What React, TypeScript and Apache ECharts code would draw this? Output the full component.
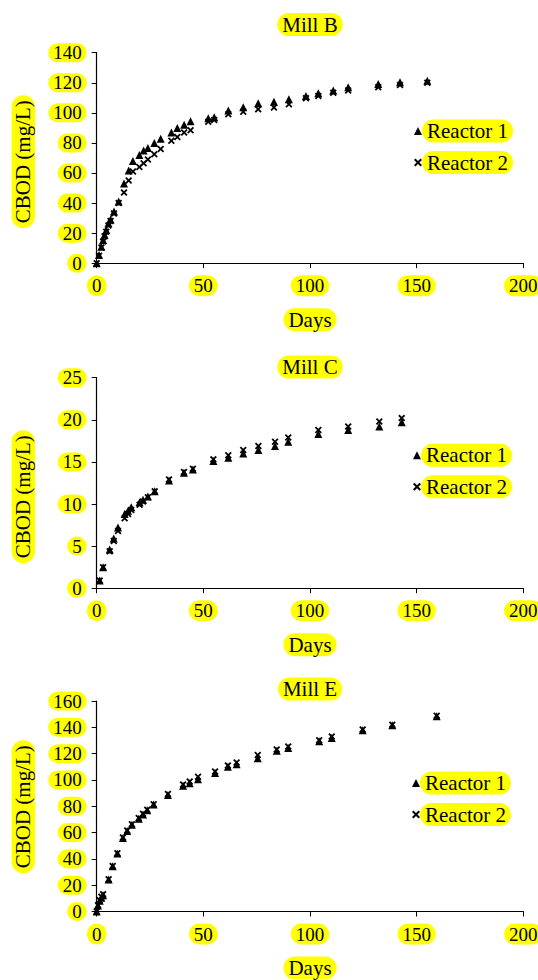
import React, { useEffect, useRef } from "react";
import * as echarts from "echarts";

// ---- Data ----
const millBDays = [0, 1.1, 2.2, 3, 3.7, 4.5, 5.5, 6.5, 8.1, 10.3, 12.8, 15, 17, 20, 22, 24, 27, 30, 35, 37.8, 41, 44, 52.3, 55.1, 61.7, 68.7, 75.7, 83.1, 90.1, 98.1, 103.9, 110.9, 117.9, 132, 142.2, 155];
const millBR1 = [0, 5.5, 11, 15.5, 19, 22, 26.6, 29, 34.4, 41, 53, 61.7, 68, 72, 75, 76.7, 80, 82.7, 87, 90, 92, 94.4, 96.4, 97, 101.5, 103.7, 106.4, 107.4, 109, 111.2, 113, 114.8, 117, 119.2, 120.3, 121.4];
const millBR2 = [0, 5, 10.5, 14.5, 18, 21, 25, 28, 33, 40, 47, 55, 61, 64, 66.5, 69, 72.5, 76, 81.5, 84, 87, 88.4, 94, 95.3, 99, 100.8, 102.4, 103.5, 105.7, 109.7, 111.2, 113.4, 114.8, 117, 118.5, 120];

const millCDays = [1.4, 3, 6.1, 8, 10, 13.1, 14.7, 16.2, 20.1, 21.7, 24, 27.2, 33.9, 40.9, 45.1, 54.7, 61.7, 68.7, 75.8, 83.6, 89.8, 103.9, 117.9, 132.5, 143];
const millCR1 = [0.9, 2.5, 4.6, 5.9, 7.2, 8.8, 9.2, 9.6, 10.2, 10.5, 10.9, 11.5, 12.8, 13.7, 14.1, 15.1, 15.5, 16.0, 16.4, 16.9, 17.4, 18.3, 18.8, 19.2, 19.7];
const millCR2 = [0.9, 2.5, 4.4, 5.6, 6.8, 8.3, 8.8, 9.3, 9.9, 10.3, 10.8, 11.5, 12.9, 13.8, 14.2, 15.3, 15.8, 16.4, 16.9, 17.4, 17.9, 18.8, 19.2, 19.8, 20.2];

const millEDays = [0, 0.6, 1.4, 2.2, 3, 5.6, 7.5, 9.7, 12.3, 14.3, 16.5, 19.7, 21.7, 23.7, 26.7, 33.4, 40.5, 43.6, 47.5, 55.5, 61.5, 65.6, 75.5, 84.4, 89.8, 104.3, 110.2, 124.7, 138.6, 159.4];
const millER1 = [0, 4.5, 8.2, 10.5, 12.3, 24.4, 34.3, 44, 55.9, 61.2, 66, 70.5, 73.8, 77, 81.3, 88.5, 95.5, 97.5, 100.5, 105.2, 110, 112, 116.5, 122.2, 124.3, 129.5, 131.8, 137.8, 141.5, 148.5];
const millER2 = [0, 4.8, 8.6, 11.3, 13.2, 24.6, 34.5, 44.3, 56.2, 61.5, 66.3, 71, 74.3, 77.4, 81.6, 89.3, 96.6, 98.8, 102.5, 106.5, 111, 113.2, 119, 123.2, 125.5, 130.2, 133, 138.3, 142, 148.8];

const titles = ["Mill B", "Mill C", "Mill E"];
const seriesNames = ["Reactor 1", "Reactor 2"];
const xTicks = [0, 50, 100, 150, 200];
const yTicksB = [0, 20, 40, 60, 80, 100, 120, 140];
const yTicksC = [0, 5, 10, 15, 20, 25];
const yTicksE = [0, 20, 40, 60, 80, 100, 120, 140, 160];
const xName = "Days";
const yName = "CBOD (mg/L)";

const panels = [
  { days: millBDays, r1: millBR1, r2: millBR2, yTicks: yTicksB },
  { days: millCDays, r1: millCR1, r2: millCR2, yTicks: yTicksC },
  { days: millEDays, r1: millER1, r2: millER2, yTicks: yTicksE },
];

// ---- Layout / style ----
const FONT = "Liberation Serif";
const YELLOW = "#ffff00";
const TICK_FS = 19;
const TEXT_FS = 21;
const gridTops = [52.7, 377.7, 701];
const gridHeight = 210.5;
const gridLeft = 96.7;
const gridWidth = 426.6;
const titleY = [24.5, 367, 689];
const yNameX = 23.3;
const yNameY = [161.7, 496.7, 806.7];
const legendTops = [120.5, 444.8, 772.5];
const legendLefts = [414, 413, 412];
const Y_MARGIN = 15;
const X_MARGIN = 13;
const NAME_GAP = 46;

const CROSS = "path://M0,1.8 L1.8,0 L5,3.2 L8.2,0 L10,1.8 L6.8,5 L10,8.2 L8.2,10 L5,6.8 L1.8,10 L0,8.2 L3.2,5 Z";

export default function App() {
  const ref = useRef<HTMLDivElement>(null);
  useEffect(() => {
    if (!ref.current) return;
    const chart = echarts.init(ref.current, undefined, { renderer: "svg" });

    const canvas = document.createElement("canvas");
    const ctx = canvas.getContext("2d") as CanvasRenderingContext2D;
    const tw = (t: string, size: number) => {
      ctx.font = `${size}px "${FONT}"`;
      return ctx.measureText(t).width;
    };

    const grids = gridTops.map((t) => ({
      left: gridLeft,
      top: t,
      width: gridWidth,
      height: gridHeight,
      containLabel: false,
      outerBoundsMode: "none",
    }));

    const xAxes = panels.map((_, i) => ({
      type: "value",
      gridIndex: i,
      min: xTicks[0],
      max: xTicks[xTicks.length - 1],
      interval: xTicks[1] - xTicks[0],
      name: xName,
      nameLocation: "middle",
      nameGap: NAME_GAP,
      z: 5,
      nameTextStyle: { fontFamily: FONT, fontSize: TEXT_FS, lineHeight: 21, color: "#000" },
      axisLine: { show: true, lineStyle: { color: "#000", width: 1.2 } },
      axisTick: { show: true, inside: false, length: 5, lineStyle: { color: "#000" } },
      axisLabel: { fontFamily: FONT, fontSize: TICK_FS, lineHeight: 19, color: "#000", margin: X_MARGIN },
      splitLine: { show: false },
    }));

    const yAxes = panels.map((p, i) => ({
      type: "value",
      gridIndex: i,
      min: p.yTicks[0],
      max: p.yTicks[p.yTicks.length - 1],
      interval: p.yTicks[1] - p.yTicks[0],
      z: 5,
      axisLine: { show: true, lineStyle: { color: "#000", width: 1.2 } },
      axisTick: { show: true, inside: false, length: 5, lineStyle: { color: "#000" } },
      axisLabel: { fontFamily: FONT, fontSize: TICK_FS, color: "#000", margin: Y_MARGIN },
      splitLine: { show: false },
    }));

    const series: any[] = [];
    panels.forEach((p, i) => {
      series.push({
        type: "scatter",
        name: seriesNames[0],
        xAxisIndex: i,
        yAxisIndex: i,
        symbol: "triangle",
        symbolSize: 8,
        itemStyle: { color: "#000", opacity: 1 },
        data: p.days.map((d, k) => [d, p.r1[k]]),
      });
      series.push({
        type: "scatter",
        name: seriesNames[1],
        xAxisIndex: i,
        yAxisIndex: i,
        symbol: CROSS,
        symbolSize: 7,
        itemStyle: { color: "#000", opacity: 1 },
        data: p.days.map((d, k) => [d, p.r2[k]]),
      });
    });

    const legends = panels.map((_, i) => ({
      orient: "vertical",
      left: legendLefts[i],
      top: legendTops[i],
      padding: 0,
      itemGap: 10.5,
      itemWidth: 8,
      itemHeight: 8,
      z: 6,
      data: seriesNames,
      selectedMode: false,
      textStyle: { fontFamily: FONT, fontSize: TEXT_FS, lineHeight: 21, color: "#000" },
    }));

    chart.setOption({
      animation: false,
      backgroundColor: "#fff",
      grid: grids,
      xAxis: xAxes,
      yAxis: yAxes,
      legend: legends,
      series,
    });

    // yellow highlight boxes behind texts, positioned from the axes' own scales
    const pill = (cx: number, cy: number, w: number, h: number) => ({
      type: "rect",
      z: -1,
      silent: true,
      shape: { x: cx - w / 2, y: cy - h / 2, width: w, height: h, r: Math.min(w, h) / 2 },
      style: { fill: YELLOW },
    });

    const graphics: any[] = [];
    panels.forEach((p, i) => {
      const ax0 = chart.convertToPixel({ xAxisIndex: i } as any, 0) as number;
      const ay0 = chart.convertToPixel({ yAxisIndex: i } as any, 0) as number;
      const axEnd = chart.convertToPixel({ xAxisIndex: i } as any, xTicks[xTicks.length - 1]) as number;
      p.yTicks.forEach((v) => {
        const py = chart.convertToPixel({ yAxisIndex: i } as any, v) as number;
        const w = tw(String(v), TICK_FS);
        graphics.push(pill(ax0 - Y_MARGIN - w / 2, py, w + 10, 19));
      });
      xTicks.forEach((v) => {
        const px = chart.convertToPixel({ xAxisIndex: i } as any, v) as number;
        const w = tw(String(v), TICK_FS);
        graphics.push(pill(px, ay0 + X_MARGIN + 9.5, w + 10, 21));
      });
      const cx = (ax0 + axEnd) / 2;
      graphics.push(pill(cx, ay0 + NAME_GAP + 10.5, tw(xName, TEXT_FS) + 10, 23));

      graphics.push(pill(cx, titleY[i], tw(titles[i], TEXT_FS) + 10, 23));
      graphics.push({
        type: "text",
        z: 1,
        x: cx,
        y: titleY[i],
        style: {
          text: titles[i],
          fontFamily: FONT,
          fontSize: TEXT_FS,
          fill: "#000",
          align: "center",
          verticalAlign: "middle",
        },
      });

      const yw = tw(yName, TEXT_FS);
      graphics.push(pill(yNameX, yNameY[i], 23.5, yw + 10));
      graphics.push({
        type: "text",
        z: 1,
        x: yNameX,
        y: yNameY[i],
        rotation: Math.PI / 2,
        style: {
          text: yName,
          fontFamily: FONT,
          fontSize: TEXT_FS,
          fill: "#000",
          align: "center",
          verticalAlign: "middle",
        },
      });

      seriesNames.forEach((n, k) => {
        const w = tw(n, TEXT_FS);
        const tx = legendLefts[i] + 8 + 5;
        const cy = legendTops[i] + 10.5 + k * 31.5;
        graphics.push(pill(tx + w / 2, cy, w + 10, 23));
      });
    });

    chart.setOption({ graphic: graphics });
    return () => chart.dispose();
  }, []);
  return (
    <div
      ref={ref}
      style={{ position: "fixed", left: 0, top: 0, width: 538, height: 980 }}
    />
  );
}
